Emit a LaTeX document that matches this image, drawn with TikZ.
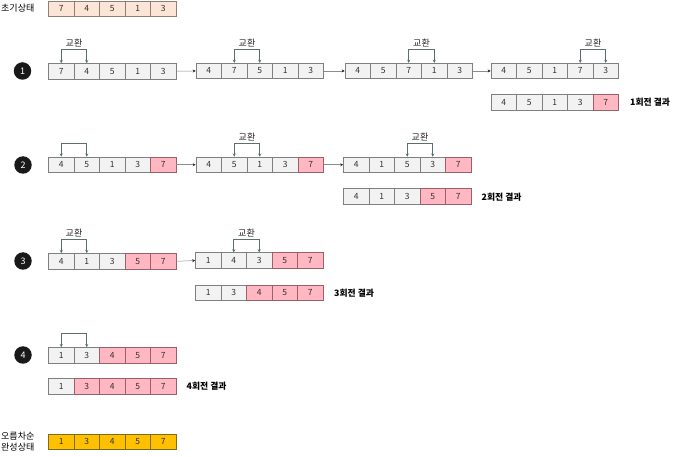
\documentclass[tikz,border=0pt]{standalone}
\usepackage{fontspec}
\setmainfont{Noto Sans CJK KR}
\usetikzlibrary{arrows.meta}
\definecolor{cellfill}{HTML}{F2F2F2}
\definecolor{cellline}{HTML}{7F7F7F}
\definecolor{pinkfill}{HTML}{FFB7C1}
\definecolor{pinkline}{HTML}{9A6068}
\definecolor{initfill}{HTML}{FCE4D6}
\definecolor{initline}{HTML}{8F7F75}
\definecolor{goldfill}{HTML}{FFC000}
\definecolor{goldline}{HTML}{7F6A20}
\definecolor{swapline}{HTML}{5B6E70}
\tikzset{
  cell/.style={draw=cellline,fill=cellfill,line width=0.6pt,minimum width=25.5pt,minimum height=15.5pt,inner sep=0pt,font=\fontsize{8.5}{9}\selectfont,text=black!80},
  hot/.style={fill=pinkfill,draw=pinkline},
  init/.style={fill=initfill,draw=initline},
  gold/.style={fill=goldfill,draw=goldline},
  plain/.style={},
  flow/.style={draw=black!45,line width=0.5pt,-{Stealth[length=3pt,width=3pt,black!85]}},
  swapbr/.style={draw=swapline,line width=0.7pt,{Stealth[length=3.2pt,width=3pt]}-{Stealth[length=3.2pt,width=3pt]}},
  swaptxt/.style={font=\fontsize{9}{10}\selectfont,text=black!85,inner sep=1pt},
  stepnum/.style={circle,fill=black!90,text=white,minimum size=17.5pt,inner sep=0pt,font=\fontsize{9}{10}\selectfont},
  result/.style={font=\bfseries\fontsize{8.8}{10}\selectfont,anchor=west,inner sep=0pt},
  side/.style={font=\fontsize{9}{11}\selectfont,anchor=west,inner sep=0pt,align=left}
}
\newcommand\arr[4]{%
  \foreach \v/\s [count=\i] in {#4} {
    \node[cell,\s] (#1-\i) at ({#2+(\i-0.5)*25.5},{#3+7.75}) {\v};
  }}
\newcommand\swp[4]{% array, i, j, label?
  \draw[swapbr] (#1-#2.north) -- ++(0,-13.5) -| (#1-#3.north) coordinate[pos=0.25] (#1-top);
  \ifx&#4&\else\node[swaptxt,above=1pt] (#1-lbl) at (#1-top) {#4};\fi}
\begin{document}
\begin{tikzpicture}[x=1pt,y=-1pt]
\useasboundingbox (0,0) rectangle (681,457);
% initial
\node[side] (initlbl) at (1,8.5) {초기상태};
\arr{ini}{48.5}{1.2}{7/init,4/init,5/init,1/init,3/init}
% round 1
\node[stepnum] (s1) at (22.5,71) {1};
\arr{r1a}{48.5}{63.5}{7/plain,4/plain,5/plain,1/plain,3/plain}
\arr{r1b}{196}{63.2}{4/plain,7/plain,5/plain,1/plain,3/plain}
\arr{r1c}{345}{63.2}{4/plain,5/plain,7/plain,1/plain,3/plain}
\arr{r1d}{491}{63.2}{4/plain,5/plain,1/plain,7/plain,3/plain}
\arr{r1r}{491}{94.5}{4/plain,5/plain,1/plain,3/plain,7/hot}
\node[result] (r1t) at (630,102) {1회전 결과};
\swp{r1a}{1}{2}{교환}
\swp{r1b}{2}{3}{교환}
\swp{r1c}{3}{4}{교환}
\swp{r1d}{4}{5}{교환}
\draw[flow] (r1a-5.east) -- (r1b-1.west);
\draw[flow] (r1b-5.east) -- (r1c-1.west);
\draw[flow] (r1c-5.east) -- (r1d-1.west);
% round 2
\node[stepnum] (s2) at (23,165) {2};
\arr{r2a}{48.5}{157}{4/plain,5/plain,1/plain,3/plain,7/hot}
\arr{r2b}{196}{157}{4/plain,5/plain,1/plain,3/plain,7/hot}
\arr{r2c}{343.5}{157}{4/plain,1/plain,5/plain,3/plain,7/hot}
\arr{r2r}{343.5}{188.5}{4/plain,1/plain,3/plain,5/hot,7/hot}
\node[result] (r2t) at (481.5,197) {2회전 결과};
\swp{r2a}{1}{2}{}
\swp{r2b}{2}{3}{교환}
\swp{r2c}{3}{4}{교환}
\draw[flow] (r2a-5.east) -- (r2b-1.west);
\draw[flow] (r2b-5.east) -- (r2c-1.west);
% round 3
\node[stepnum] (s3) at (23,261) {3};
\arr{r3a}{48.5}{253.5}{4/plain,1/plain,3/plain,5/hot,7/hot}
\arr{r3b}{195.5}{252.8}{1/plain,4/plain,3/plain,5/hot,7/hot}
\arr{r3r}{195.5}{285}{1/plain,3/plain,4/hot,5/hot,7/hot}
\node[result] (r3t) at (334,293) {3회전 결과};
\swp{r3a}{1}{2}{교환}
\swp{r3b}{2}{3}{교환}
\draw[flow] (r3a-5.east) -- (r3b-1.west);
% round 4
\node[stepnum] (s4) at (23,355) {4};
\arr{r4a}{48.5}{347.5}{1/plain,3/plain,4/hot,5/hot,7/hot}
\arr{r4r}{48.5}{378.5}{1/plain,3/hot,4/hot,5/hot,7/hot}
\node[result] (r4t) at (186.5,386.5) {4회전 결과};
\swp{r4a}{1}{2}{}
% final
\node[side] (finlbl) at (1,441.5) {오름차순\\완성상태};
\arr{fin}{48.5}{434}{1/gold,3/gold,4/gold,5/gold,7/gold}
\end{tikzpicture}
\end{document}
